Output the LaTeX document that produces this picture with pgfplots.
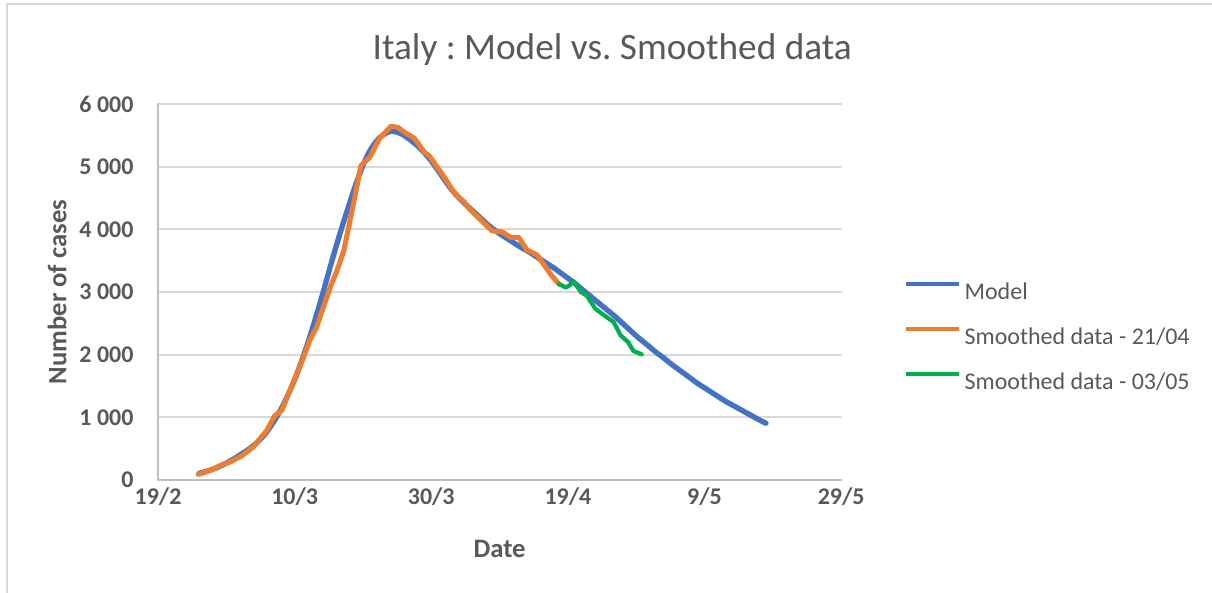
\documentclass[border=0pt]{standalone}
\usepackage{fontspec}
\setmainfont{Carlito}
\usepackage{pgfplots}
\pgfplotsset{compat=1.18}
\definecolor{cModel}{HTML}{4472C4}
\definecolor{cOld}{HTML}{ED7D31}
\definecolor{cNew}{HTML}{00B050}
\definecolor{txt}{HTML}{595959}
\definecolor{gridc}{HTML}{D9D9D9}
\definecolor{axln}{HTML}{BFBFBF}
\frenchspacing

% day 0 = 19/02/2020
\begin{document}
\begin{tikzpicture}[x=0.0132cm,y=0.0132cm]
\path[use as bounding box] (0,0) rectangle (1212,593);
\draw[gridc, line width=0.75pt] (7,0) -- (7,589) -- (1212,589);
\begin{axis}[
  at={(2.0856cm,1.4916cm)}, anchor=south west,
  scale only axis, width=9.016cm, height=4.963cm,
  xmin=0, xmax=100, ymin=0, ymax=6000,
  xtick={0,20,40,60,80,100},
  xticklabels={19/2,10/3,30/3,19/4,9/5,29/5},
  ytick={0,1000,2000,3000,4000,5000,6000},
  yticklabels={0,1 000,2 000,3 000,4 000,5 000,6 000},
  major tick length=0pt,
  axis x line*=bottom, axis y line*=left,
  axis line style={-, draw=axln, line width=0.75pt},
  ymajorgrids, major grid style={draw=gridc, line width=0.75pt},
  tick label style={font=\fontsize{9}{11}\selectfont\bfseries, text=txt, inner sep=0pt},
  yticklabel style={anchor=east, xshift=-0.317cm},
  xticklabel style={anchor=base, yshift=-0.317cm},
  xlabel={Date}, ylabel={Number of cases},
  label style={font=\fontsize{10}{12}\selectfont\bfseries, text=txt, inner sep=0pt},
  xlabel style={at={(axis description cs:0.5,-0.2074)}, anchor=base},
  ylabel style={at={(axis description cs:-0.134,0.5)}, anchor=base},
  title={Italy : Model vs. Smoothed data},
  title style={at={(axis description cs:0.665,1.117)}, anchor=base, yshift=-6pt, font=\fontsize{14}{17}\selectfont, text=txt, inner sep=0pt},
  legend style={at={(axis description cs:1.0923,0.379)}, anchor=west, draw=none, fill=none,
    inner sep=0pt, row sep=7.9pt, column sep=0.045cm, font=\fontsize{9}{11}\selectfont, text=txt,
    cells={anchor=west}, nodes={inner sep=0pt, text height=7pt, text depth=2pt}},
  legend image code/.code={\draw[#1, line width=1.3pt] (0cm,3.2pt) -- (0.70cm,3.2pt);},
  clip=false,
  line join=round, line cap=round,
]
\addplot[cModel, line width=2pt, smooth] coordinates {
(6,105) (7,135) (8,170) (9,215) (10,270) (11,330) (12,400) (13,470) (14,550)
(15,650) (16,780) (17,940) (18,1130) (19,1350) (20,1600) (21,1890) (22,2210)
(23,2560) (24,2930) (25,3320) (26,3700) (27,4060) (28,4400) (29,4730) (30,5020)
(31,5250) (32,5410) (33,5510) (34,5560) (35,5550) (36,5500) (37,5420) (38,5330)
(39,5220) (40,5090) (41,4940) (42,4780) (43,4630) (44,4510) (45,4400) (46,4300)
(47,4200) (48,4100) (49,4010) (50,3930) (51,3860) (52,3790) (53,3720) (54,3660)
(55,3590) (56,3520) (57,3450) (58,3380) (59,3300) (60,3220) (61,3140) (62,3050)
(63,2960) (64,2870) (65,2780) (66,2690) (67,2600) (68,2500) (69,2400) (70,2300)
(71,2210) (72,2120) (73,2030) (74,1950) (75,1860) (76,1780) (77,1700) (78,1620)
(79,1540) (80,1470) (81,1400) (82,1330) (83,1260) (84,1200) (85,1140) (86,1080)
(87,1020) (88,960) (89,905)
};
\addplot[cOld, line width=1.9pt] coordinates {
(5.9,90) (7.6,150) (9.1,230) (10.8,300) (12.3,390) (13.9,522) (15.9,787)
(17.1,1026) (18.1,1106) (19.3,1425) (21.3,1957) (22.3,2250) (23.2,2435)
(25.2,3074) (26.2,3340) (27.2,3659) (28.7,4457) (29.7,5015) (31.0,5149)
(32.4,5443) (34.1,5644) (35.1,5627) (36.3,5531) (37.5,5457) (39.0,5228)
(39.7,5175) (41.9,4830) (43.6,4545) (44.8,4440) (45.5,4335) (47.0,4175)
(48.9,3975) (50.4,3957) (51.6,3872) (52.8,3872) (54.0,3670) (55.5,3590)
(56.7,3404) (57.7,3250) (58.7,3127)
};
\addplot[cNew, line width=1.6pt] coordinates {
(58.7,3127) (59.7,3070) (60.3,3110) (60.8,3175) (61.9,3000) (62.8,2936)
(64.0,2735) (65.5,2612) (66.7,2521) (67.7,2309) (68.8,2202) (69.6,2058)
(70.8,2005)
};
\legend{Model, Smoothed data - 21/04, Smoothed data - 03/05}
\end{axis}
\end{tikzpicture}
\end{document}
